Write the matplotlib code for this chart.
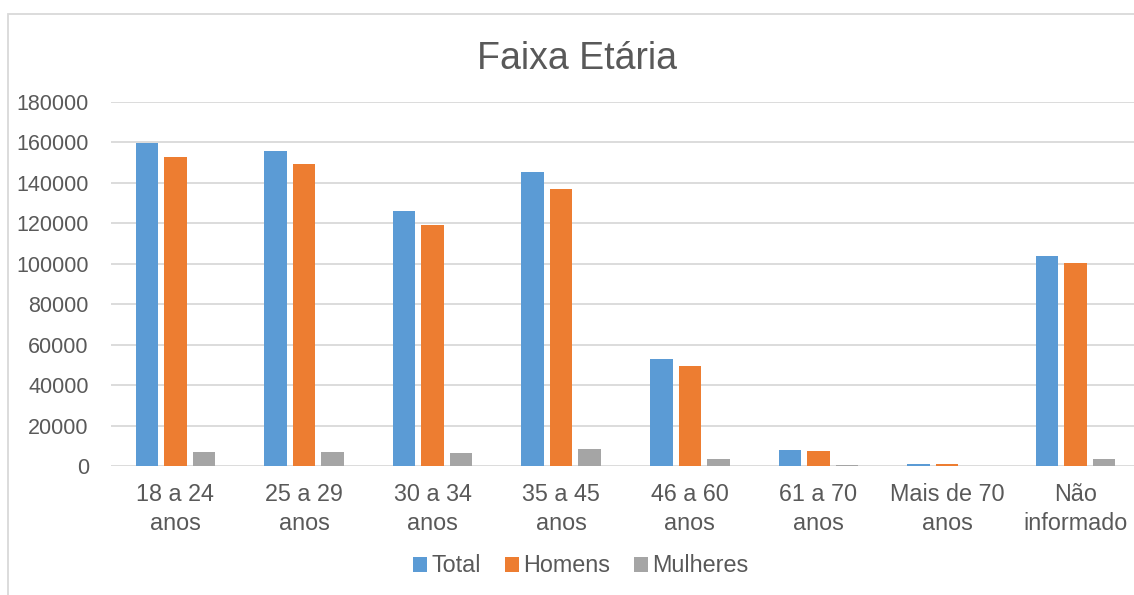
import numpy as np
from matplotlib import pyplot as plt
from matplotlib.patches import Rectangle

categories = ['18 a 24\nanos', '25 a 29\nanos', '30 a 34\nanos', '35 a 45\nanos',
              '46 a 60\nanos', '61 a 70\nanos', 'Mais de 70\nanos', 'Não\ninformado']
total = [159700, 156000, 126100, 145400, 53100, 7900, 1100, 103900]
homens = [152900, 149100, 119300, 136800, 49300, 7400, 900, 100300]
mulheres = [7100, 6800, 6400, 8400, 3500, 600, 100, 3500]

series = [('Total', total, '#5B9BD5'),
          ('Homens', homens, '#ED7D31'),
          ('Mulheres', mulheres, '#A5A5A5')]

plt.rcParams['font.family'] = ['Liberation Sans', 'DejaVu Sans']
text_color = '#595959'

fig = plt.figure(figsize=(11.34, 5.95), dpi=100)
ax = fig.add_axes([111 / 1134, 1 - 466 / 595, 1029 / 1134, 364 / 595])

x = np.arange(len(categories))
width = 0.175
step = 0.222
for i, (name, vals, color) in enumerate(series):
    ax.bar(x + (i - 1) * step, vals, width, color=color, label=name,
           linewidth=0, zorder=3)

ax.set_xlim(-0.5, len(categories) - 0.5)
ax.set_ylim(0, 180000)
ax.set_yticks(np.arange(0, 180001, 20000))
ax.set_xticks(x)
ax.set_xticklabels(categories, linespacing=1.35)
ax.tick_params(axis='both', length=0, labelsize=15.5, labelcolor=text_color)
ax.tick_params(axis='x', labelsize=16.8, pad=12)
ax.tick_params(axis='y', pad=16)
ax.grid(axis='y', color='#D9D9D9', linewidth=1.3, zorder=0)
for s in ax.spines.values():
    s.set_visible(False)

fig.text(577 / 1134, 1 - 59 / 595, 'Faixa Etária', ha='center', va='center',
         fontsize=27, color=text_color)

fig.legend(loc='center', bbox_to_anchor=(581 / 1134, 1 - 566 / 595), ncol=3,
           frameon=False, fontsize=16.8, labelcolor=text_color,
           handlelength=0.6, handleheight=0.6, handletextpad=0.2,
           columnspacing=1.0)

fig.patches.append(Rectangle((8 / 1134, -0.1), 1.2, 1.1 - 14 / 595,
                             transform=fig.transFigure, fill=False,
                             edgecolor='#D9D9D9', linewidth=1.3))

fig.savefig('out.png', dpi=100)
